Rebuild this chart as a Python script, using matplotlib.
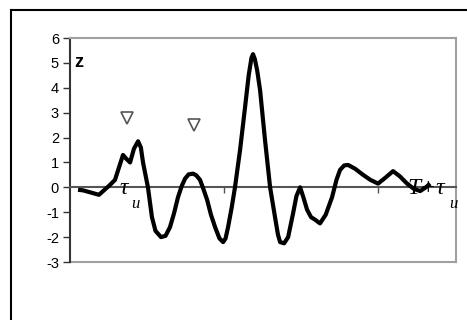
import matplotlib
matplotlib.use('Agg')
import matplotlib.pyplot as plt
from matplotlib.lines import Line2D

# signal z(t)
t = [0.52, 0.84, 1.88, 2.6, 2.92, 3.18, 3.44, 3.65, 3.9, 4.15, 4.42, 4.6,
     4.74, 5.06, 5.32, 5.55, 5.91, 6.2, 6.49, 6.75, 7.01, 7.25, 7.47, 7.7,
     7.99, 8.2, 8.44, 8.65, 8.9, 9.15, 9.42, 9.7, 9.94, 10.1, 10.26, 10.5,
     10.71, 11.04, 11.36, 11.6, 11.78, 11.88, 12.0, 12.15, 12.34, 12.66,
     12.99, 13.31, 13.5, 13.64, 13.9, 14.16, 14.48, 14.7, 14.94, 15.15,
     15.39, 15.65, 15.91, 16.23, 16.6, 17.01, 17.3, 17.53, 17.8, 18.05,
     18.5, 19.03, 19.5, 20.0, 20.5, 20.97, 21.4, 21.88, 22.3, 22.73, 23.1,
     23.38]
z = [-0.1, -0.12, -0.3, 0.1, 0.3, 0.8, 1.3, 1.15, 1.0, 1.55, 1.85, 1.6,
     1.0, 0.0, -1.2, -1.75, -2.0, -1.95, -1.6, -1.05, -0.4, 0.05, 0.35, 0.52,
     0.55, 0.48, 0.3, -0.05, -0.5, -1.1, -1.6, -2.05, -2.2, -2.05, -1.6, -0.8,
     0.0, 1.5, 3.2, 4.5, 5.2, 5.35, 5.15, 4.7, 3.9, 1.9,
     0.0, -1.2, -1.9, -2.2, -2.25, -2.0, -1.05, -0.35, 0.0, -0.4,
     -0.9, -1.2, -1.3, -1.45, -1.1, -0.4, 0.3, 0.7, 0.88, 0.9,
     0.75, 0.5, 0.3, 0.15, 0.4, 0.65, 0.45, 0.15, -0.05, -0.15, 0.0,
     0.15]

# open triangle markers
tri_t = [3.7, 8.05]
tri_z = [2.8, 2.5]

y_ticks = [-3, -2, -1, 0, 1, 2, 3, 4, 5, 6]
x_ticks = [10, 20]

fig = plt.figure(figsize=(4.67, 3.2), dpi=100)
ax = fig.add_axes([0.1499, 0.18125, 0.8266, 0.70])

ax.plot(t, z, color='black', lw=3.0, solid_joinstyle='round',
        solid_capstyle='butt', zorder=3)
ax.plot(tri_t, tri_z, linestyle='none', marker='v', ms=8,
        mfc='white', mec='#555555', mew=1.2, zorder=4)

ax.set_xlim(0, 25.06)
ax.set_ylim(-3, 6)
ax.set_yticks(y_ticks)
ax.set_yticklabels([str(v) for v in y_ticks], fontsize=10.5,
                   fontfamily='Liberation Sans')
ax.set_xticks(x_ticks)
ax.set_xticklabels([])

ax.spines['left'].set_color('#333333')
ax.spines['left'].set_linewidth(1.5)
ax.spines['bottom'].set_position(('data', 0))
ax.spines['bottom'].set_color('#555555')
ax.spines['bottom'].set_linewidth(1.5)
ax.spines['top'].set_color('#a0a0a0')
ax.spines['top'].set_linewidth(1.5)
ax.spines['right'].set_color('#a0a0a0')
ax.spines['right'].set_linewidth(1.5)
ax.axhline(-3, color='#a0a0a0', lw=1.5, clip_on=False, zorder=1)

ax.tick_params(axis='y', direction='out', length=5, width=1, color='#333333', pad=3)
ax.tick_params(axis='x', direction='out', length=4, width=1, color='#555555')

# labels
ax.text(0.3, 5.0, 'z', fontsize=13, fontweight='bold',
        fontfamily='Liberation Sans', va='center', ha='left')
ax.text(3.2, -0.05, 'τ', fontsize=17, style='italic',
        fontfamily='Liberation Serif', va='center', ha='left', zorder=5)
ax.text(3.95, -0.65, 'u', fontsize=12, style='italic',
        fontfamily='Liberation Serif', va='center', ha='left', zorder=5)
ax.text(21.9, -0.05, 'T+τ', fontsize=17, style='italic',
        fontfamily='Liberation Serif', va='center', ha='left', zorder=5)
ax.text(24.6, -0.65, 'u', fontsize=12, style='italic',
        fontfamily='Liberation Serif', va='center', ha='left', zorder=5)

# outer frame (cropped on right and bottom)
fig.add_artist(Line2D([11 / 467, 1.0], [1 - 10 / 320, 1 - 10 / 320],
                      color='black', lw=1.5, transform=fig.transFigure))
fig.add_artist(Line2D([11 / 467, 11 / 467], [0.0, 1 - 10 / 320],
                      color='black', lw=1.5, transform=fig.transFigure))

fig.savefig('out.png', dpi=100)
